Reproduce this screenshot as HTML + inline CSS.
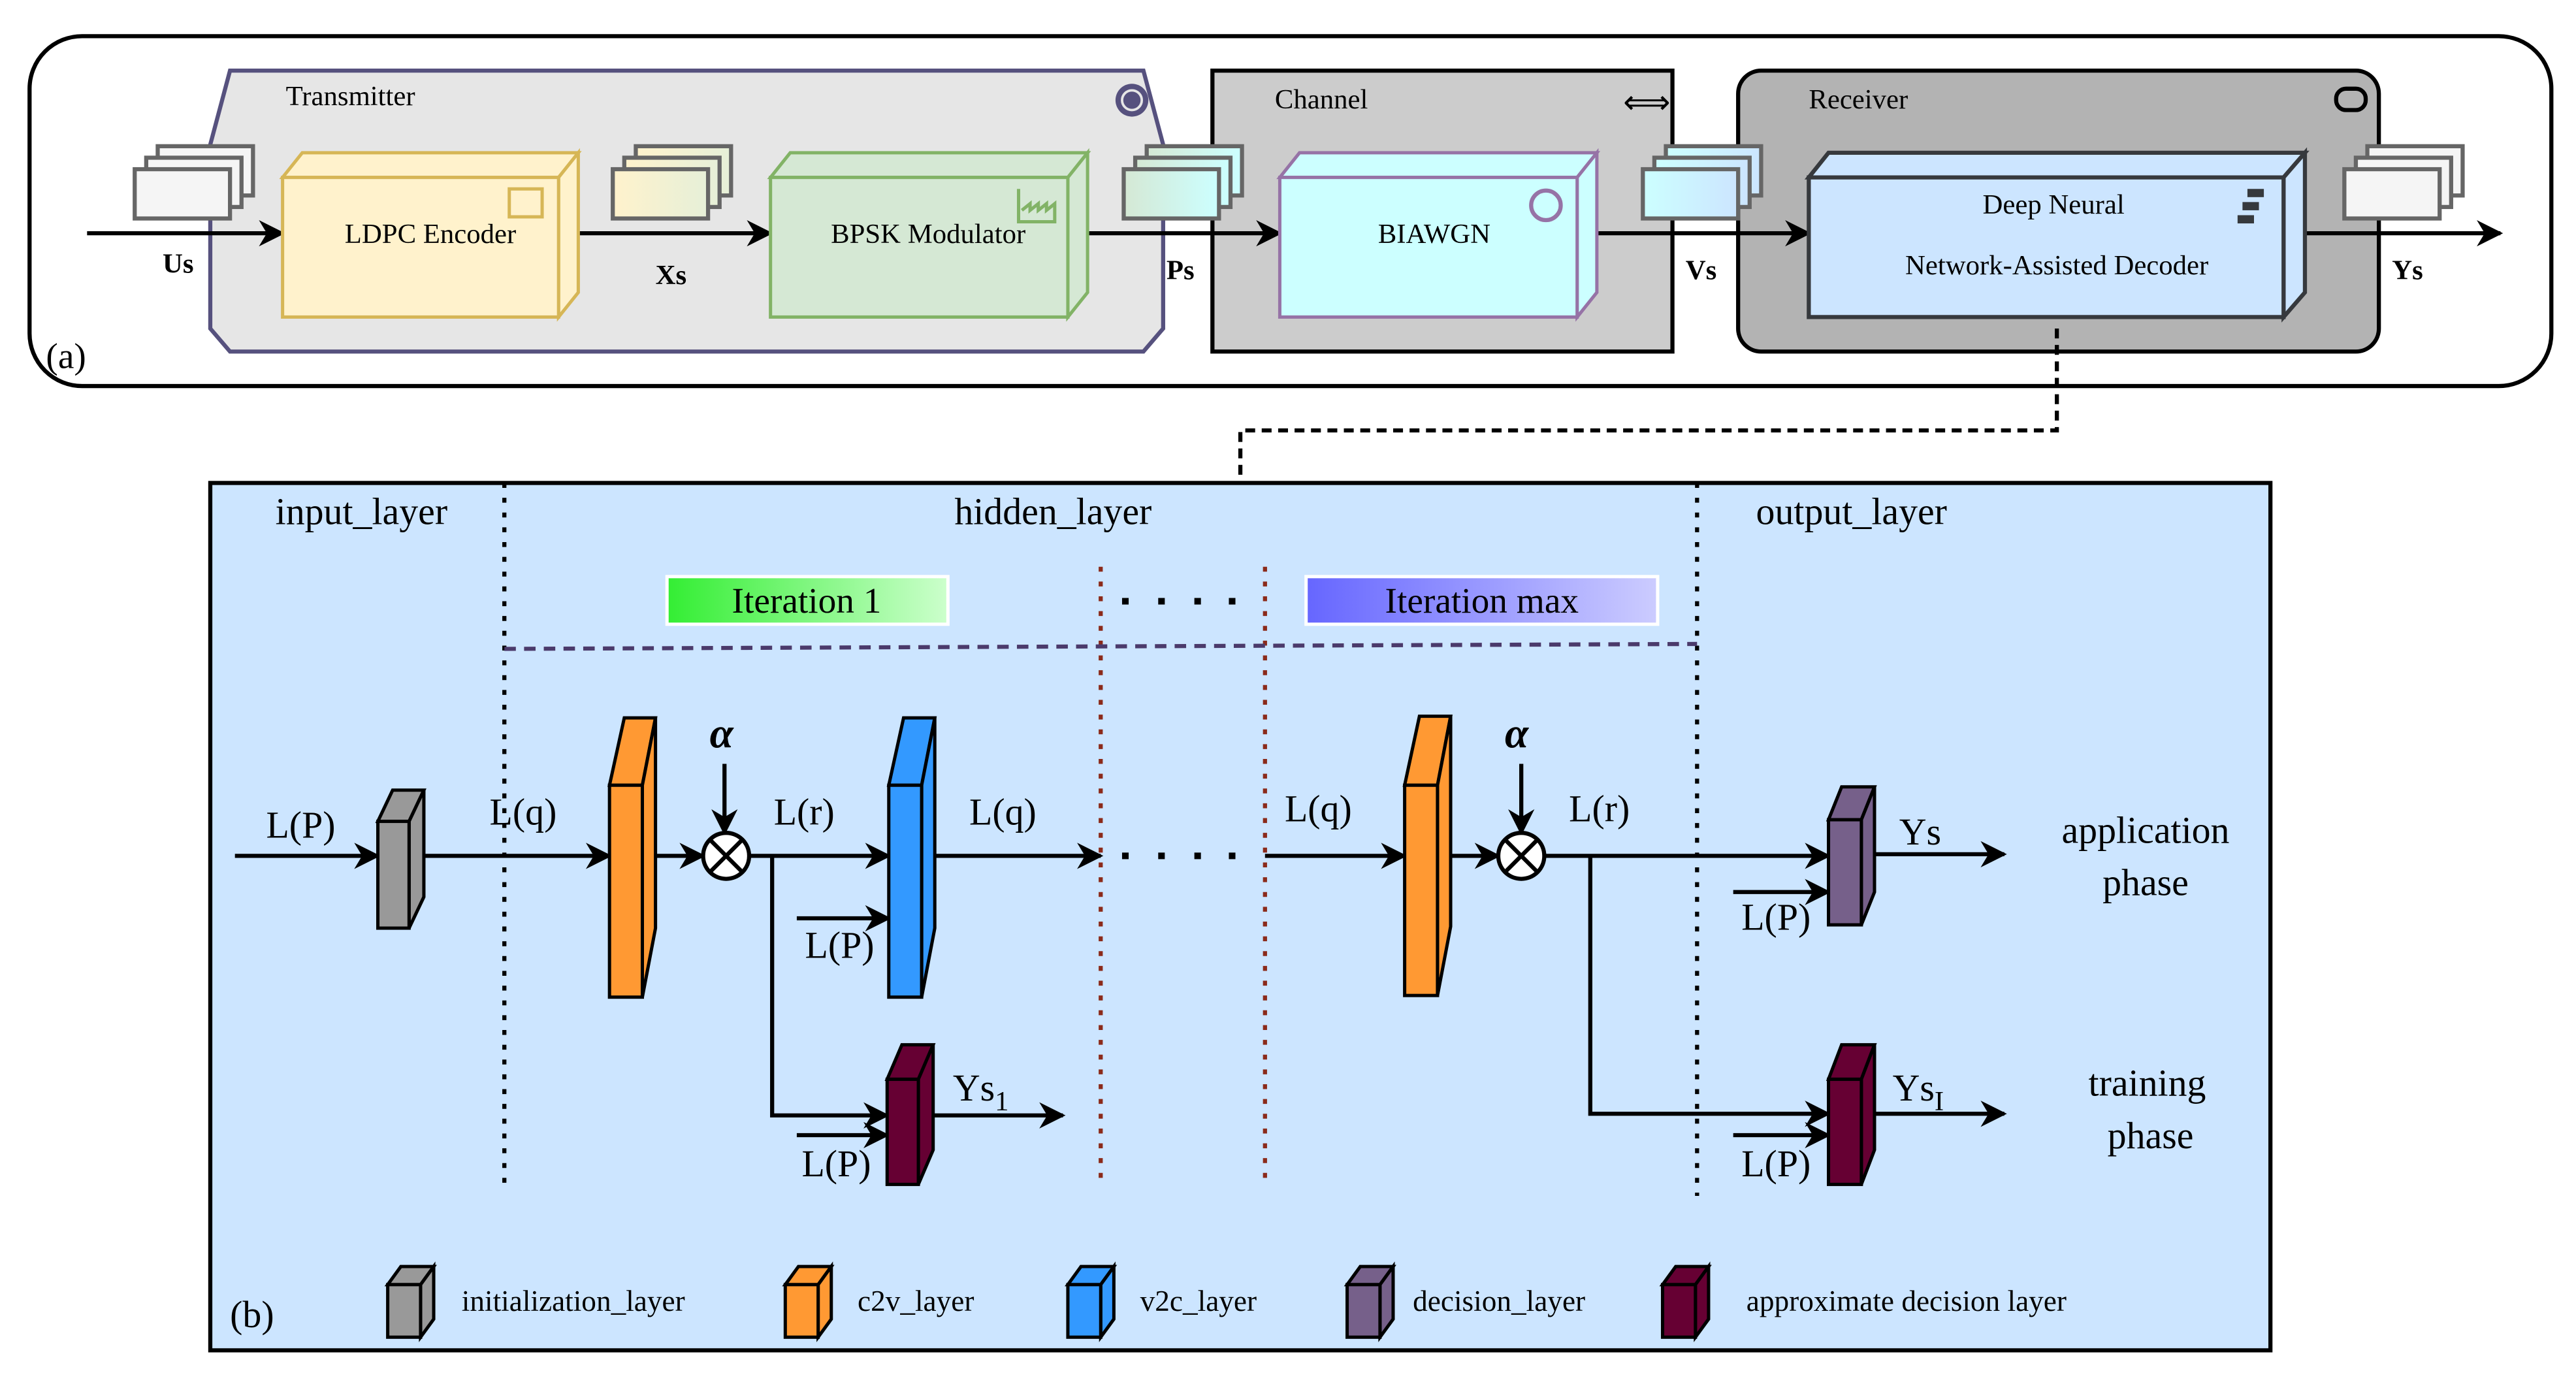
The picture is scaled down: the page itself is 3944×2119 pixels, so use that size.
<!DOCTYPE html>
<html><head><meta charset="utf-8"><style>
html,body{margin:0;padding:0;background:#fff;}
svg{display:block;}
text{font-family:"Liberation Serif",serif;fill:#000;}
</style></head><body>
<svg width="3944" height="2119" viewBox="0 0 1568 842.5" preserveAspectRatio="none" xmlns="http://www.w3.org/2000/svg">
<defs>
<marker id="ar" viewBox="0 0 10 10" refX="9" refY="5" markerWidth="6" markerHeight="6" orient="auto" markerUnits="userSpaceOnUse">
<path d="M0,0 L10,5 L0,10 L3,5 Z" fill="#000"/></marker>
<marker id="ab" viewBox="0 0 10 10" refX="9" refY="5" markerWidth="20" markerHeight="16" orient="auto" markerUnits="userSpaceOnUse">
<path d="M0,0 L10,5 L0,10 L3,5 Z" fill="#000"/></marker>
<linearGradient id="g1" x1="0" x2="1"><stop offset="0" stop-color="#33ee33"/><stop offset="1" stop-color="#ccffcc"/></linearGradient>
<linearGradient id="g2" x1="0" x2="1"><stop offset="0" stop-color="#6666ff"/><stop offset="1" stop-color="#ccccff"/></linearGradient>
<linearGradient id="gx" x1="0" x2="1"><stop offset="0" stop-color="#fff2cc"/><stop offset="1" stop-color="#e6f0d8"/></linearGradient>
<linearGradient id="gp" x1="0" x2="1"><stop offset="0" stop-color="#d5e8d4"/><stop offset="1" stop-color="#ccffff"/></linearGradient>
<linearGradient id="gv" x1="0" x2="1"><stop offset="0" stop-color="#ccffff"/><stop offset="1" stop-color="#cce5ff"/></linearGradient>
</defs>

<!-- (a) outer -->
<rect x="18" y="22" width="1535" height="213" rx="32" fill="#fff" stroke="#000" stroke-width="2.5"/>
<text x="28" y="224" font-size="22">(a)</text>

<!-- Transmitter -->
<polygon points="140,43 696,43 708,88 708,200 696,214 140,214 128,200 128,88" fill="#e6e6e6" stroke="#56517e" stroke-width="2.5"/>
<text x="174" y="64" font-size="17">Transmitter</text>
<circle cx="689" cy="61" r="10" fill="#56517e"/><circle cx="689" cy="61" r="6" fill="none" stroke="#e6e6e6" stroke-width="1.5"/>
<!-- Channel -->
<rect x="738" y="43" width="280" height="171" fill="#cccccc" stroke="#000" stroke-width="2.5"/>
<text x="776" y="66" font-size="17">Channel</text>
<text x="988" y="69" font-size="20">⟺</text>
<!-- Receiver -->
<rect x="1058" y="43" width="390" height="171" rx="14" fill="#b3b3b3" stroke="#000" stroke-width="2.5"/>
<text x="1101" y="66" font-size="17">Receiver</text>
<rect x="1422" y="54" width="18" height="13" rx="6" fill="none" stroke="#000" stroke-width="2.5"/>

<!-- document stacks -->
<g stroke="#666" stroke-width="2.5">
<g fill="#f5f5f5"><rect x="96" y="89" width="58" height="30"/><rect x="89" y="96" width="58" height="30"/><rect x="82" y="103" width="58" height="30"/></g>
<g fill="url(#gx)"><rect x="387" y="89" width="58" height="30"/><rect x="380" y="96" width="58" height="30"/><rect x="373" y="103" width="58" height="30"/></g>
<g fill="url(#gp)"><rect x="698" y="89" width="58" height="30"/><rect x="691" y="96" width="58" height="30"/><rect x="684" y="103" width="58" height="30"/></g>
<g fill="url(#gv)"><rect x="1014" y="89" width="58" height="30"/><rect x="1007" y="96" width="58" height="30"/><rect x="1000" y="103" width="58" height="30"/></g>
<g fill="#f5f5f5"><rect x="1441" y="89" width="58" height="30"/><rect x="1434" y="96" width="58" height="30"/><rect x="1427" y="103" width="58" height="30"/></g>
</g>

<!-- main arrows -->
<g stroke="#000" stroke-width="2.5" marker-end="url(#ab)">
<line x1="53" y1="142" x2="172" y2="142"/>
<line x1="352" y1="142" x2="469" y2="142"/>
<line x1="662" y1="142" x2="779" y2="142"/>
<line x1="964" y1="142" x2="1101" y2="142"/>
<line x1="1402" y1="142" x2="1522" y2="142"/>
</g>

<!-- 3D boxes -->
<g stroke-width="2">
<g fill="#fff2cc" stroke="#d6b656"><polygon points="172,108 184,93 352,93 340,108"/><polygon points="340,108 352,93 352,178 340,193"/><rect x="172" y="108" width="168" height="85"/></g>
<g fill="#d5e8d4" stroke="#82b366"><polygon points="469,108 481,93 662,93 650,108"/><polygon points="650,108 662,93 662,178 650,193"/><rect x="469" y="108" width="181" height="85"/></g>
<g fill="#ccffff" stroke="#9673a6"><polygon points="779,108 791,93 972,93 960,108"/><polygon points="960,108 972,93 972,178 960,193"/><rect x="779" y="108" width="181" height="85"/></g>
<g fill="#cce5ff" stroke="#36393d" stroke-width="2.5"><polygon points="1101,108 1113,93 1403,93 1390,108"/><polygon points="1390,108 1403,93 1403,178 1390,193"/><rect x="1101" y="108" width="289" height="85"/></g>
</g>
<rect x="310" y="115" width="20" height="17" fill="none" stroke="#d6b656" stroke-width="2"/>
<path d="M620,115 V135 H642 V124 L637,128 V124 L632,128 V124 L627,128 V124 L622,128" fill="none" stroke="#82b366" stroke-width="2"/>
<circle cx="941" cy="125" r="9" fill="none" stroke="#9673a6" stroke-width="2.5"/>
<g fill="#36393d"><rect x="1368" y="115" width="10" height="5"/><rect x="1365" y="123" width="10" height="5"/><rect x="1362" y="131" width="10" height="5"/></g>
<text x="262" y="148" font-size="17" text-anchor="middle">LDPC Encoder</text>
<text x="565" y="148" font-size="17" text-anchor="middle">BPSK   Modulator</text>
<text x="873" y="148" font-size="17" text-anchor="middle">BIAWGN</text>
<text x="1250" y="130" font-size="17" text-anchor="middle">Deep Neural</text>
<text x="1252" y="167" font-size="17" text-anchor="middle">Network-Assisted Decoder</text>
<g font-size="17" font-weight="bold">
<text x="99" y="166">Us</text><text x="399" y="173">Xs</text><text x="710" y="170">Ps</text><text x="1026" y="170">Vs</text><text x="1456" y="170">Ys</text>
</g>

<!-- dashed connector -->
<path d="M1252,200 V262 H755 V294" fill="none" stroke="#000" stroke-width="2.5" stroke-dasharray="6,4"/>

<!-- (b) panel -->
<rect x="128" y="294" width="1254" height="528" fill="#cce5ff" stroke="#000" stroke-width="2.5"/>
<g font-size="23">
<text x="220" y="319" text-anchor="middle">input_layer</text>
<text x="641" y="319" text-anchor="middle">hidden_layer</text>
<text x="1127" y="319" text-anchor="middle">output_layer</text>
</g>
<g stroke-width="2.5" stroke-dasharray="3,6">
<line x1="307" y1="294" x2="307" y2="722" stroke="#000"/>
<line x1="1033" y1="294" x2="1033" y2="728" stroke="#000"/>
<line x1="670" y1="345" x2="670" y2="722" stroke="#8b2a1a"/>
<line x1="770" y1="345" x2="770" y2="722" stroke="#8b2a1a"/>
</g>
<line x1="307" y1="395" x2="1033" y2="392" stroke="#4b3a6b" stroke-width="2.5" stroke-dasharray="7,5"/>
<rect x="406" y="351" width="171" height="29" fill="url(#g1)" stroke="#fff" stroke-width="2"/>
<text x="491" y="373" font-size="22" text-anchor="middle">Iteration 1</text>
<rect x="795" y="351" width="214" height="29" fill="url(#g2)" stroke="#fff" stroke-width="2"/>
<text x="902" y="373" font-size="22" text-anchor="middle">Iteration max</text>
<g fill="#000"><rect x="683" y="364" width="4" height="4"/><rect x="705" y="364" width="4" height="4"/><rect x="727" y="364" width="4" height="4"/><rect x="748" y="364" width="4" height="4"/>
<rect x="683" y="519" width="4" height="4"/><rect x="705" y="519" width="4" height="4"/><rect x="727" y="519" width="4" height="4"/><rect x="748" y="519" width="4" height="4"/></g>

<!-- connectors -->
<g stroke="#000" stroke-width="2.5" fill="none">
<line x1="143" y1="521" x2="230" y2="521" marker-end="url(#ab)"/>
<line x1="258" y1="521" x2="371" y2="521" marker-end="url(#ab)"/>
<line x1="399" y1="521" x2="428" y2="521" marker-end="url(#ab)"/>
<line x1="456" y1="521" x2="541" y2="521" marker-end="url(#ab)"/>
<line x1="569" y1="521" x2="670" y2="521" marker-end="url(#ab)"/>
<line x1="441" y1="465" x2="441" y2="507" marker-end="url(#ab)"/>
<polyline points="470,521 470,679 540,679" marker-end="url(#ab)"/>
<line x1="485" y1="559" x2="541" y2="559" marker-end="url(#ab)"/>
<line x1="485" y1="691" x2="540" y2="691" marker-end="url(#ab)"/>
<line x1="568" y1="679" x2="647" y2="679" marker-end="url(#ab)"/>
<line x1="770" y1="521" x2="855" y2="521" marker-end="url(#ab)"/>
<line x1="883" y1="521" x2="912" y2="521" marker-end="url(#ab)"/>
<line x1="926" y1="465" x2="926" y2="507" marker-end="url(#ab)"/>
<line x1="940" y1="521" x2="1113" y2="521" marker-end="url(#ab)"/>
<polyline points="968,521 968,678 1113,678" marker-end="url(#ab)"/>
<line x1="1055" y1="543" x2="1113" y2="543" marker-end="url(#ab)"/>
<line x1="1055" y1="691" x2="1113" y2="691" marker-end="url(#ab)"/>
<line x1="1141" y1="520" x2="1220" y2="520" marker-end="url(#ab)"/>
<line x1="1141" y1="678" x2="1220" y2="678" marker-end="url(#ab)"/>
</g>
<g stroke="#000" stroke-width="2.5" fill="#fff">
<circle cx="442" cy="521" r="14"/><circle cx="926" cy="521" r="14"/>
</g>
<g stroke="#000" stroke-width="2.5">
<line x1="432" y1="511" x2="452" y2="531"/><line x1="452" y1="511" x2="432" y2="531"/>
<line x1="916" y1="511" x2="936" y2="531"/><line x1="936" y1="511" x2="916" y2="531"/>
</g>

<!-- layers -->
<g stroke="#000" stroke-width="2">
<g fill="#999"><polygon points="230,500 239,481 258,481 249,500"/><polygon points="249,500 258,481 258,546 249,565"/><rect x="230" y="500" width="19" height="65"/></g>
<g fill="#ff9933"><polygon points="371,478 380,437 399,437 391,478"/><polygon points="391,478 399,437 399,565 391,607"/><rect x="371" y="478" width="20" height="129"/></g>
<g fill="#3399ff"><polygon points="541,478 550,437 569,437 561,478"/><polygon points="561,478 569,437 569,565 561,607"/><rect x="541" y="478" width="20" height="129"/></g>
<g fill="#660033"><polygon points="540,657 549,636 568,636 559,657"/><polygon points="559,657 568,636 568,700 559,721"/><rect x="540" y="657" width="19" height="64"/></g>
<g fill="#ff9933"><polygon points="855,478 864,436 883,436 875,478"/><polygon points="875,478 883,436 883,564 875,606"/><rect x="855" y="478" width="20" height="128"/></g>
<g fill="#76608a"><polygon points="1113,499 1121,479 1141,479 1133,499"/><polygon points="1133,499 1141,479 1141,543 1133,563"/><rect x="1113" y="499" width="20" height="64"/></g>
<g fill="#660033"><polygon points="1113,657 1121,636 1141,636 1133,657"/><polygon points="1133,657 1141,636 1141,700 1133,721"/><rect x="1113" y="657" width="20" height="64"/></g>
<!-- legend -->
<g fill="#999"><polygon points="236,782 244,771 264,771 256,782"/><polygon points="256,782 264,771 264,803 256,814"/><rect x="236" y="782" width="20" height="32"/></g>
<g fill="#ff9933"><polygon points="478,782 486,771 506,771 498,782"/><polygon points="498,782 506,771 506,803 498,814"/><rect x="478" y="782" width="20" height="32"/></g>
<g fill="#3399ff"><polygon points="650,782 658,771 678,771 670,782"/><polygon points="670,782 678,771 678,803 670,814"/><rect x="650" y="782" width="20" height="32"/></g>
<g fill="#76608a"><polygon points="820,782 828,771 848,771 840,782"/><polygon points="840,782 848,771 848,803 840,814"/><rect x="820" y="782" width="20" height="32"/></g>
<g fill="#660033"><polygon points="1012,782 1020,771 1040,771 1032,782"/><polygon points="1032,782 1040,771 1040,803 1032,814"/><rect x="1012" y="782" width="20" height="32"/></g>
</g>

<!-- labels -->
<g font-size="23">
<text x="162" y="510">L(P)</text>
<text x="298" y="502">L(q)</text>
<text x="471" y="502">L(r)</text>
<text x="590" y="502">L(q)</text>
<text x="490" y="583">L(P)</text>
<text x="488" y="716">L(P)</text>
<text x="580" y="670">Ys<tspan font-size="17" dy="6">1</tspan></text>
<text x="782" y="500">L(q)</text>
<text x="955" y="500">L(r)</text>
<text x="1060" y="566">L(P)</text>
<text x="1060" y="716">L(P)</text>
<text x="1156" y="514">Ys</text>
<text x="1152" y="670">Ys<tspan font-size="17" dy="6">I</tspan></text>
<text x="1306" y="513" text-anchor="middle">application</text>
<text x="1306" y="545" text-anchor="middle">phase</text>
<text x="1307" y="667" text-anchor="middle">training</text>
<text x="1309" y="699" text-anchor="middle">phase</text>
<text x="140" y="808">(b)</text>
</g>
<text x="432" y="455" font-size="26" font-weight="bold" font-style="italic">α</text>
<text x="916" y="455" font-size="26" font-weight="bold" font-style="italic">α</text>
<g font-size="18">
<text x="281" y="798">initialization_layer</text>
<text x="522" y="798">c2v_layer</text>
<text x="694" y="798">v2c_layer</text>
<text x="860" y="798">decision_layer</text>
<text x="1063" y="798">approximate decision layer</text>
</g>
</svg>
</body></html>
